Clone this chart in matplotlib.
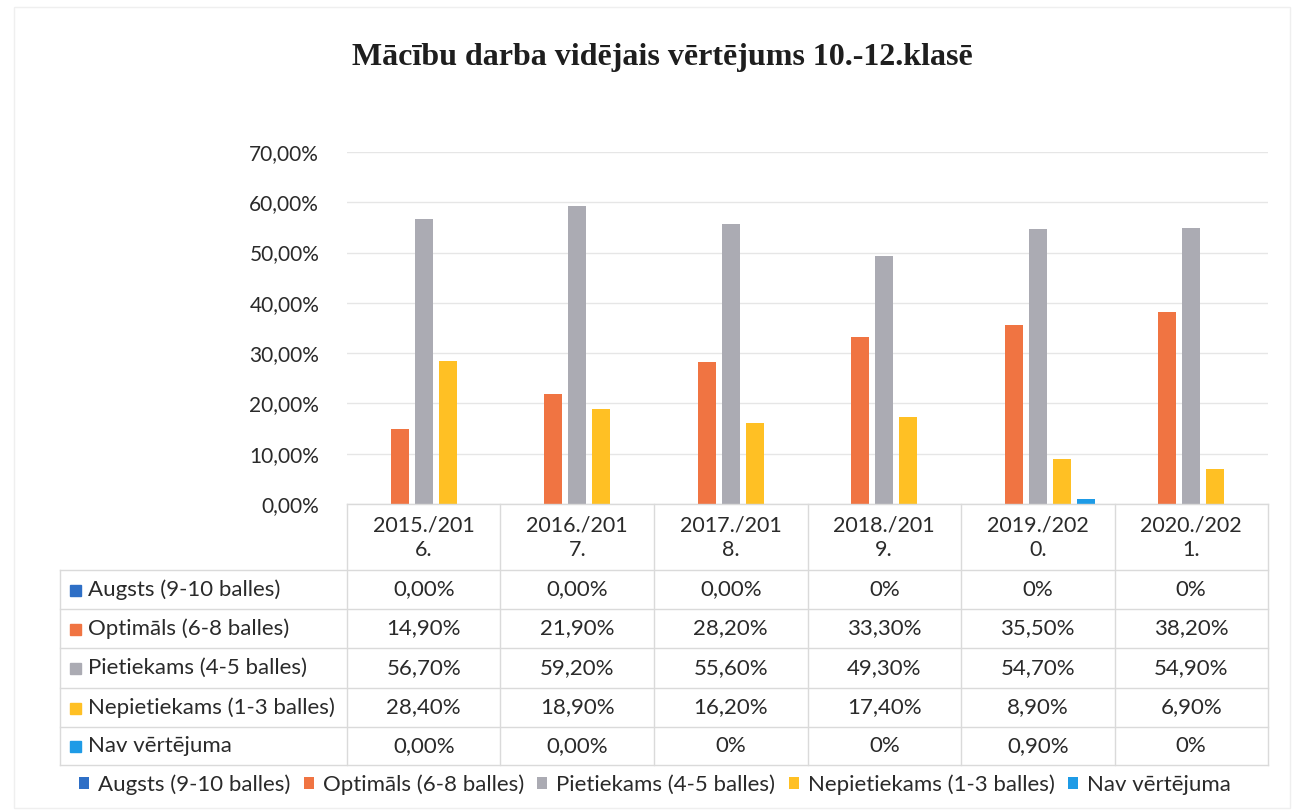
import matplotlib
matplotlib.use("Agg")
import matplotlib.pyplot as plt
import matplotlib.transforms as mtransforms
from matplotlib.patches import Patch
from matplotlib.lines import Line2D
import numpy as np

# ---------------- data ----------------
categories = ["2015./201\n6.", "2016./201\n7.", "2017./201\n8.", "2018./201\n9.", "2019./202\n0.", "2020./202\n1."]
series_names = ["Augsts (9-10 balles)", "Optimāls (6-8 balles)", "Pietiekams (4-5 balles)",
                "Nepietiekams (1-3 balles)", "Nav vērtējuma"]
augsts = [0.0, 0.0, 0.0, 0.0, 0.0, 0.0]
optimals = [14.9, 21.9, 28.2, 33.3, 35.5, 38.2]
pietiekams = [56.7, 59.2, 55.6, 49.3, 54.7, 54.9]
nepietiekams = [28.4, 18.9, 16.2, 17.4, 8.9, 6.9]
nav = [0.0, 0.0, 0.0, 0.0, 0.9, 0.0]
table_augsts = ["0,00%", "0,00%", "0,00%", "0%", "0%", "0%"]
table_optimals = ["14,90%", "21,90%", "28,20%", "33,30%", "35,50%", "38,20%"]
table_pietiekams = ["56,70%", "59,20%", "55,60%", "49,30%", "54,70%", "54,90%"]
table_nepietiekams = ["28,40%", "18,90%", "16,20%", "17,40%", "8,90%", "6,90%"]
table_nav = ["0,00%", "0,00%", "0%", "0%", "0,90%", "0%"]
yticks = [0, 10, 20, 30, 40, 50, 60, 70]
ytick_labels = ["0,00%", "10,00%", "20,00%", "30,00%", "40,00%", "50,00%", "60,00%", "70,00%"]

series_values = [augsts, optimals, pietiekams, nepietiekams, nav]
table_texts = [table_augsts, table_optimals, table_pietiekams, table_nepietiekams, table_nav]
colors = ["#2E6FC6", "#F07442", "#ABABB3", "#FFC024", "#1E9BE6"]

# ---------------- figure ----------------
W, H = 1295, 811
fig = plt.figure(figsize=(W / 100, H / 100), dpi=100)
fig.patch.set_facecolor("white")
FONT = ["Lato", "DejaVu Sans"]
TXT = "#2A2A2A"

def fx(x):
    return x / W

def fy(y):
    return 1 - y / H

# faint chart border
fig.add_artist(plt.Rectangle((fx(14), fy(808)), (1290 - 14) / W, (808 - 7) / H,
                             transform=fig.transFigure, fill=False, edgecolor="#EFEFEF", linewidth=1))

ax_l, ax_r, ax_t, ax_b = 347, 1268, 152, 504
ax = fig.add_axes([fx(ax_l), fy(ax_b), fx(ax_r - ax_l), (ax_b - ax_t) / H])

n = len(categories)
x = np.arange(n)
bw = 0.118
step = 0.157
for i, (vals, c) in enumerate(zip(series_values, colors)):
    ax.bar(x + (i - 2) * step, vals, width=bw, color=c, zorder=3)

ax.set_xlim(-0.5, n - 0.5)
ax.set_ylim(0, 70)
ax.set_yticks(yticks)
ax.set_yticklabels(ytick_labels, fontsize=15, family=FONT, color=TXT)
ax.tick_params(axis="y", length=0, pad=20)
ax.set_xticks([])
ax.grid(axis="y", color="#E6E6E6", linewidth=1, zorder=0)
for s in ax.spines.values():
    s.set_visible(False)

# ---------------- title ----------------
fig.text(fx(662), fy(57), "Mācību darba vidējais vērtējums 10.-12.klasē",
         ha="center", va="center", fontsize=23, fontweight="bold",
         family=["Liberation Serif", "DejaVu Serif"], color="#1E1E1E")

# ---------------- data table ----------------
trans = mtransforms.blended_transform_factory(ax.transData, fig.transFigure)
line_c = "#DADADA"
hdr_top, hdr_bot = 504, 570
row_bounds = [570, 609, 648, 688, 727, 765]
tab_left = 60

for k in range(n + 1):
    xv = k - 0.5
    fig.add_artist(Line2D([xv, xv], [fy(hdr_top), fy(row_bounds[-1])], transform=trans,
                          color=line_c, linewidth=1))
fig.add_artist(Line2D([fx(tab_left), fx(tab_left)], [fy(row_bounds[0]), fy(row_bounds[-1])],
                      transform=fig.transFigure, color=line_c, linewidth=1))
for yb in row_bounds:
    fig.add_artist(Line2D([fx(tab_left), fx(ax_r)], [fy(yb), fy(yb)],
                          transform=fig.transFigure, color=line_c, linewidth=1))
fig.add_artist(Line2D([fx(ax_l), fx(ax_r)], [fy(hdr_top), fy(hdr_top)],
                      transform=fig.transFigure, color=line_c, linewidth=1))

for k, cat in enumerate(categories):
    fig.text(k, fy((hdr_top + hdr_bot) / 2 + 1), cat, transform=trans, ha="center", va="center",
             fontsize=15.5, family=FONT, color=TXT, linespacing=1.3)

for r, (name, texts, c) in enumerate(zip(series_names, table_texts, colors)):
    yc = (row_bounds[r] + row_bounds[r + 1]) / 2
    fig.add_artist(plt.Rectangle((fx(70), fy(yc + 6)), 11 / W, 11 / H,
                                 transform=fig.transFigure, color=c))
    fig.text(fx(88), fy(yc), name, ha="left", va="center", fontsize=16,
             family=FONT, color=TXT)
    for k, t in enumerate(texts):
        fig.text(k, fy(yc), t, transform=trans, ha="center", va="center",
                 fontsize=16, family=FONT, color=TXT)

# ---------------- legend ----------------
handles = [Patch(facecolor=c, edgecolor="none") for c in colors]
leg = fig.legend(handles, series_names, loc="center", bbox_to_anchor=(fx(655), fy(785)),
                 ncol=5, frameon=False, handlelength=0.45, handleheight=0.45,
                 handletextpad=0.4, columnspacing=0.6, prop={"family": FONT, "size": 16})
for t in leg.get_texts():
    t.set_color(TXT)

fig.savefig("out.png", dpi=100, facecolor="white")
